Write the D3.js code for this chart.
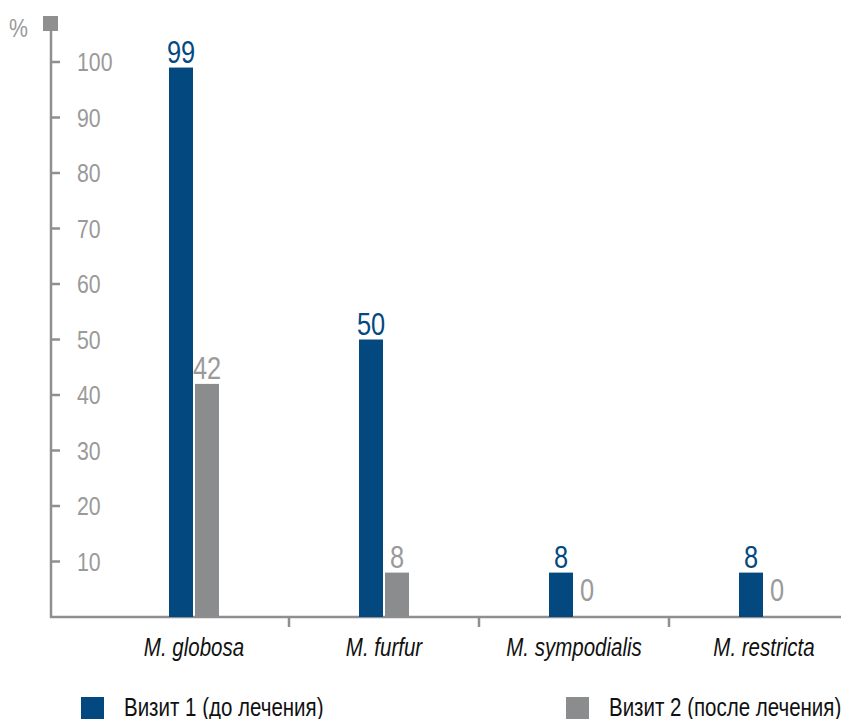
<!DOCTYPE html>
<html>
<head>
<meta charset="utf-8">
<script src="https://cdn.jsdelivr.net/npm/d3@7"></script>
<style>
  body { margin: 0; background: #fff; }
  svg text { font-family: "Liberation Sans", Arial, sans-serif; }
</style>
</head>
<body>
<svg id="chart" width="841" height="719"></svg>
<script>
// Data
const categories = ["M. globosa", "M. furfur", "M. sympodialis", "M. restricta"];
const visit1 = [99, 50, 8, 8];
const visit2 = [42, 8, 0, 0];
const seriesNames = ["Визит 1 (до лечения)", "Визит 2 (после лечения)"];
const yTicks = [10, 20, 30, 40, 50, 60, 70, 80, 90, 100];

const blue = "#03497f", gray = "#8b8c8e", axisGray = "#8f8f8f", labelGray = "#9a9a9a";
const K = 0.82; // narrow the glyphs, the original uses a condensed face

const svg = d3.select("#chart");

// place text with horizontal squeeze
function tr(x, y) { return `translate(${x},${y}) scale(${K},1)`; }

const y = d3.scaleLinear()
  .domain([0, 100])
  .range([617, 62]);

const x = d3.scaleBand()
  .domain(categories)
  .range([99, 859]);

const barW = 24;

// y axis line + top square
svg.append("line")
  .attr("x1", 51).attr("x2", 51)
  .attr("y1", 28).attr("y2", 618)
  .attr("stroke", axisGray).attr("stroke-width", 2.5);
svg.append("rect")
  .attr("x", 43).attr("y", 16).attr("width", 15).attr("height", 15)
  .attr("fill", axisGray);
svg.append("text")
  .attr("transform", tr(9, 37))
  .attr("fill", labelGray).attr("font-size", 26)
  .text("%");

const yt = svg.append("g").selectAll("g")
  .data(yTicks)
  .enter().append("g");
yt.append("line")
  .attr("x1", 51).attr("x2", 60)
  .attr("y1", d => y(d)).attr("y2", d => y(d))
  .attr("stroke", axisGray).attr("stroke-width", 2.5);
yt.append("text")
  .attr("transform", d => tr(77, y(d) + 9))
  .attr("fill", labelGray).attr("font-size", 26)
  .text(d => d);

// x axis
svg.append("line")
  .attr("x1", 50).attr("x2", 841)
  .attr("y1", y(0)).attr("y2", y(0))
  .attr("stroke", axisGray).attr("stroke-width", 2.5);
svg.append("g").selectAll("line")
  .data(categories.slice(1))
  .enter().append("line")
  .attr("x1", d => x(d)).attr("x2", d => x(d))
  .attr("y1", y(0)).attr("y2", y(0) + 10)
  .attr("stroke", axisGray).attr("stroke-width", 2.5);
svg.append("g").selectAll("text")
  .data(categories)
  .enter().append("text")
  .attr("transform", d => tr(x(d) + x.bandwidth() / 2, 656))
  .attr("text-anchor", "middle")
  .attr("font-size", 25)
  .attr("font-style", "italic")
  .attr("fill", "#111")
  .text(d => d);

// bars
const series = [
  { values: visit1, color: blue, text: blue, off: -barW - 1 },
  { values: visit2, color: gray, text: labelGray, off: 1 }
];
series.forEach(s => {
  const g = svg.append("g");
  g.selectAll("rect")
    .data(categories)
    .enter().append("rect")
    .attr("x", d => x(d) + x.bandwidth() / 2 + s.off)
    .attr("y", (d, i) => y(s.values[i]))
    .attr("width", barW)
    .attr("height", (d, i) => y(0) - y(s.values[i]))
    .attr("fill", s.color);
  g.selectAll("text")
    .data(categories)
    .enter().append("text")
    .attr("transform", (d, i) => tr(x(d) + x.bandwidth() / 2 + s.off + barW / 2,
      s.values[i] === 0 ? y(0) - 16 : y(s.values[i]) - 5))
    .attr("text-anchor", "middle")
    .attr("font-size", 31)
    .attr("fill", s.text)
    .text((d, i) => s.values[i]);
});

// legend
const leg = svg.append("g").selectAll("g")
  .data(seriesNames)
  .enter().append("g")
  .attr("transform", (d, i) => `translate(${i === 0 ? 81 : 566},697)`);
leg.append("rect")
  .attr("width", 23).attr("height", 23)
  .attr("fill", (d, i) => i === 0 ? blue : gray);
leg.append("text")
  .attr("transform", tr(43, 19))
  .attr("font-size", 25)
  .attr("fill", "#111")
  .text(d => d);
</script>
</body>
</html>
